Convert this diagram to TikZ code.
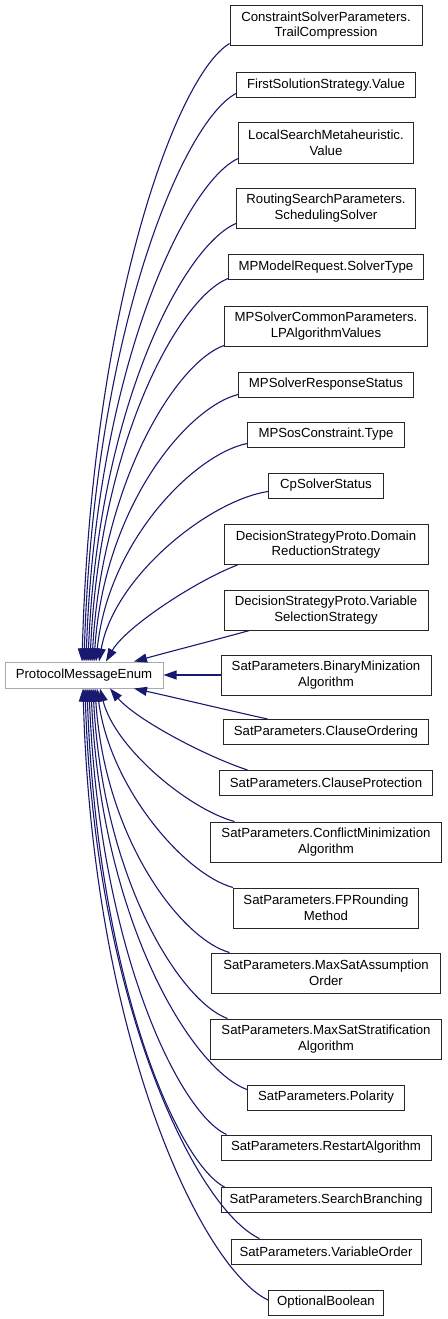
\documentclass[tikz,border=0pt]{standalone}
\usepackage{fontspec}
\setmainfont{Liberation Sans}
\usetikzlibrary{arrows.meta}
\definecolor{edgeblue}{RGB}{25,25,112}
\definecolor{basegray}{RGB}{170,170,170}
\newcommand\nodefont{\fontsize{13.2}{15.5}\selectfont}
\begin{document}
\begin{tikzpicture}[x=1pt,y=-1pt,
  cls/.style={draw=black!85, line width=1pt, fill=white, inner sep=0pt, align=center, font=\nodefont},
  one/.style={minimum height=25pt},
  two/.style={minimum height=40pt},
  basecls/.style={draw=basegray, line width=1pt, fill=white, inner sep=0pt, align=center, font=\nodefont, minimum width=158pt, minimum height=26pt},
  inh/.style={draw=edgeblue, line width=1.1pt, -{Triangle[length=13pt,width=9pt]}}]
\useasboundingbox (0,0) rectangle (447,1319);
\node[basecls] (base) at (84,675) {ProtocolMessageEnum};
\node[cls,two,minimum width=192pt] (c1) at (326,25.5) {ConstraintSolverParameters.\\TrailCompression};
\node[cls,one,minimum width=179pt] (c2) at (326,85) {FirstSolutionStrategy.Value};
\node[cls,two,minimum width=175pt] (c3) at (326,143) {LocalSearchMetaheuristic.\\Value};
\node[cls,two,minimum width=179pt] (c4) at (326,208) {RoutingSearchParameters.\\SchedulingSolver};
\node[cls,one,minimum width=195pt] (c5) at (326,267) {MPModelRequest.SolverType};
\node[cls,two,minimum width=203pt] (c6) at (326,326) {MPSolverCommonParameters.\\LPAlgorithmValues};
\node[cls,one,minimum width=175pt] (c7) at (326,384.5) {MPSolverResponseStatus};
\node[cls,one,minimum width=157pt] (c8) at (326,434.5) {MPSosConstraint.Type};
\node[cls,one,minimum width=115pt] (c9) at (326,485.5) {CpSolverStatus};
\node[cls,two,minimum width=204pt] (c10) at (326,544.5) {DecisionStrategyProto.Domain\\ReductionStrategy};
\node[cls,two,minimum width=204pt] (c11) at (326,610) {DecisionStrategyProto.Variable\\SelectionStrategy};
\node[cls,two,minimum width=210pt] (c12) at (326,675) {SatParameters.BinaryMinization\\Algorithm};
\node[cls,one,minimum width=205pt] (c13) at (326,732) {SatParameters.ClauseOrdering};
\node[cls,one,minimum width=213pt] (c14) at (326,783) {SatParameters.ClauseProtection};
\node[cls,two,minimum width=231pt] (c15) at (326,842) {SatParameters.ConflictMinimization\\Algorithm};
\node[cls,two,minimum width=185pt] (c16) at (326,908) {SatParameters.FPRounding\\Method};
\node[cls,two,minimum width=229pt] (c17) at (326,973) {SatParameters.MaxSatAssumption\\Order};
\node[cls,two,minimum width=231pt] (c18) at (326,1039) {SatParameters.MaxSatStratification\\Algorithm};
\node[cls,one,minimum width=157pt] (c19) at (326,1097.5) {SatParameters.Polarity};
\node[cls,one,minimum width=210pt] (c20) at (326,1147.5) {SatParameters.RestartAlgorithm};
\node[cls,one,minimum width=210pt] (c21) at (326,1200) {SatParameters.SearchBranching};
\node[cls,one,minimum width=190pt] (c22) at (326,1251.5) {SatParameters.VariableOrder};
\node[cls,one,minimum width=115pt] (c23) at (326,1302.5) {OptionalBoolean};
% edges to the top of the base
\draw[inh] ([yshift=2.5pt]c1.south west) .. controls +(-52,31) and +(10,-359) .. ([xshift=-2pt]base.north);
\draw[inh] ([yshift=4.5pt]c2.south west) .. controls +(-53,28) and +(10,-330) .. (base.north);
\draw[inh] ([yshift=5pt]c3.south west) .. controls +(-53,25) and +(10,-292) .. ([xshift=2pt]base.north);
\draw[inh] ([yshift=5pt]c4.south west) .. controls +(-52,22) and +(10,-255) .. ([xshift=4pt]base.north);
\draw[inh] ([yshift=1.5pt]c5.south west) .. controls +(-48,19) and +(10,-223) .. ([xshift=6pt]base.north);
\draw[inh] ([yshift=1pt]c6.south west) .. controls +(-46,16) and +(10,-184) .. ([xshift=8pt]base.north);
\draw[inh] ([yshift=3pt]c7.south west) .. controls +(-51,13) and +(10,-155) .. ([xshift=10pt]base.north);
\draw[inh] ([yshift=4pt]c8.south west) .. controls +(-53,11) and +(12,-120) .. ([xshift=12pt]base.north);
\draw[inh] ([yshift=7pt]c9.south west) .. controls +(-59,9) and +(15,-85) .. ([xshift=15pt]base.north);
\draw[inh] ([xshift=14pt]c10.south west) .. controls +(-40,15) and +(20,-35) .. ([xshift=22pt]base.north);
\draw[inh] ([xshift=26pt]c11.south west) .. controls +(-40,11) and +(40,-11) .. ([xshift=50pt]base.north);
% straight edge
\draw[inh] (c12.west) -- (base.east);
% edges to the bottom of the base
\draw[inh] ([xshift=44.5pt]c13.north west) .. controls +(-45,-10) and +(45,10) .. ([xshift=50pt]base.south);
\draw[inh] ([xshift=28.5pt]c14.north west) .. controls +(-45,-15) and +(25,30) .. ([xshift=26pt]base.south);
\draw[inh] ([xshift=24.5pt]c15.north west) .. controls +(-45,-12) and +(15,60) .. ([xshift=16pt]base.south);
\draw[inh] (c16.north west) .. controls +(-48,-13) and +(13,100) .. ([xshift=13pt]base.south);
\draw[inh] ([xshift=18.5pt]c17.north west) .. controls +(-47,-13) and +(10,153) .. ([xshift=11pt]base.south);
\draw[inh] ([xshift=17.5pt]c18.north west) .. controls +(-47,-17) and +(10,192) .. ([xshift=9pt]base.south);
\draw[inh] ([yshift=-5pt]c19.north west) .. controls +(-55,-20) and +(10,233) .. ([xshift=7pt]base.south);
\draw[inh] ([xshift=6pt]c20.north west) .. controls +(-48,-22) and +(10,259) .. ([xshift=5pt]base.south);
\draw[inh] ([xshift=4pt]c21.north west) .. controls +(-48,-25) and +(10,289) .. ([xshift=3pt]base.south);
\draw[inh] ([xshift=29pt]c22.north west) .. controls +(-61,-28) and +(10,320) .. ([xshift=1pt]base.south);
\draw[inh] ([yshift=2.5pt]c23.west) .. controls +(-65,-31) and +(10,355) .. ([xshift=-1pt]base.south);
\end{tikzpicture}
\end{document}
